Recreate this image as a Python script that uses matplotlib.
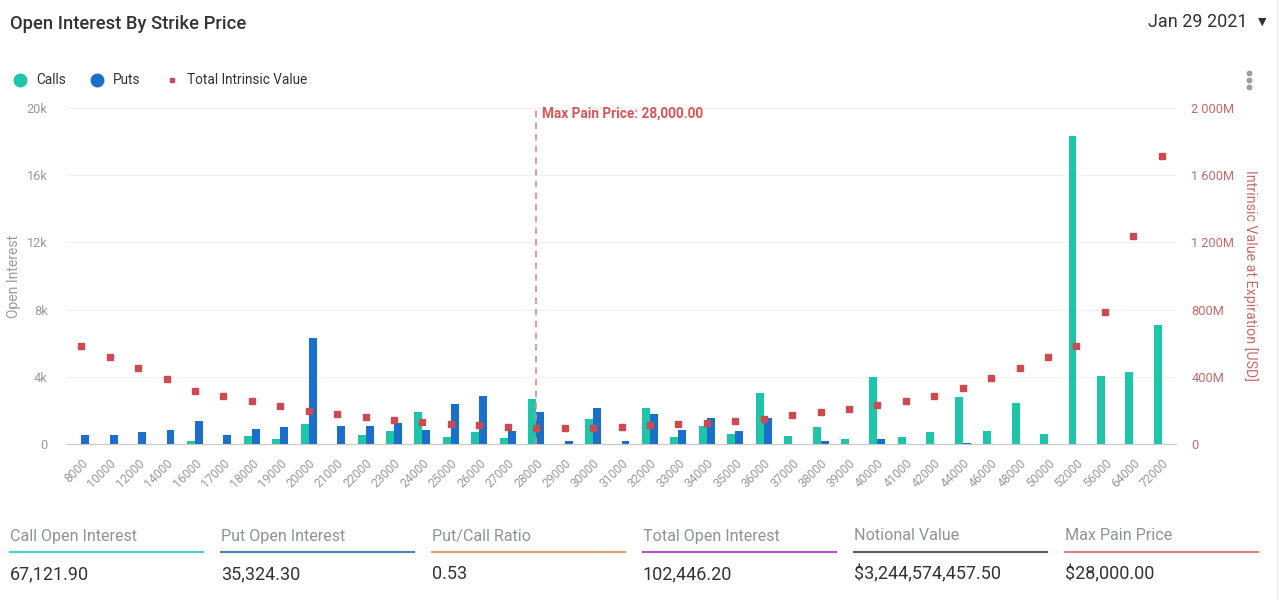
import numpy as np
import matplotlib.pyplot as plt
from matplotlib.lines import Line2D
from matplotlib.ticker import FuncFormatter

plt.rcParams['font.family'] = ['Roboto', 'DejaVu Sans']

strikes = ["8000", "10000", "12000", "14000", "16000", "17000", "18000", "19000",
           "20000", "21000", "22000", "23000", "24000", "25000", "26000", "27000",
           "28000", "29000", "30000", "31000", "32000", "33000", "34000", "35000",
           "36000", "37000", "38000", "39000", "40000", "41000", "42000", "44000",
           "46000", "48000", "50000", "52000", "56000", "64000", "72000"]

calls = [0, 0, 0, 0, 150, 0, 500, 300, 1170, 0, 550, 750, 1900, 420, 690, 340,
         2690, 0, 1490, 0, 2160, 420, 1090, 610, 3030, 500, 1030, 300, 3960, 420,
         690, 2770, 750, 2440, 610, 18360, 4040, 4300, 7110]

puts = [550, 550, 700, 830, 1350, 550, 890, 1000, 6300, 1090, 1090, 1230, 830,
        2380, 2830, 750, 1900, 160, 2160, 160, 1760, 830, 1560, 750, 1560, 0, 160,
        0, 300, 0, 0, 60, 0, 0, 0, 0, 0, 0, 0]

# total intrinsic value, millions USD
intrinsic = [584, 519, 451, 384, 317, 285, 257, 224, 196, 176, 162, 143, 131, 119,
             111, 103, 97, 97, 97, 103, 111, 117, 125, 137, 150, 170, 190, 210, 230,
             257, 285, 331, 392, 451, 519, 584, 786, 1236, 1717]

max_pain = "28000"

stat_labels = ["Call Open Interest", "Put Open Interest", "Put/Call Ratio",
               "Total Open Interest", "Notional Value", "Max Pain Price"]
stat_values = ["67,121.90", "35,324.30", "0.53", "102,446.20",
               "$3,244,574,457.50", "$28,000.00"]
stat_colors = ["#4fd1c1", "#4f86b0", "#d6a66c", "#a95bc6", "#5c5f63", "#d98585"]

CALL_C = "#1fc5a8"
PUT_C = "#1a6fca"
DOT_C = "#cc4a52"
RED_TXT = "#d65656"
AXIS_RED = "#c96a6a"
GRAY = "#9a9a9a"

W, H = 1280, 599
fig = plt.figure(figsize=(12.8, 5.99), dpi=100)
fig.patch.set_facecolor("white")

def fx(px):
    return px / W

def fy(py):
    return 1 - py / H

ax = fig.add_axes([fx(67), fy(444), fx(1176) - fx(67), fy(108) - fy(444)])
x = np.arange(len(strikes))
bw = 0.28
ax.bar(x - bw / 2, calls, width=bw, color=CALL_C, zorder=2)
ax.bar(x + bw / 2, puts, width=bw, color=PUT_C, zorder=2)
ax.set_xlim(-0.5, len(strikes) - 0.5)
ax.set_ylim(0, 20000)
ax.set_yticks([0, 4000, 8000, 12000, 16000, 20000])
ax.yaxis.set_major_formatter(FuncFormatter(lambda v, p: "0" if v == 0 else f"{int(v/1000)}k"))
ax.grid(axis="y", color="#f0f0f0", lw=0.8, zorder=0)
for s in ["top", "right", "left"]:
    ax.spines[s].set_visible(False)
ax.spines["bottom"].set_color("#c8c8c8")
ax.tick_params(axis="y", length=0, pad=14, labelcolor=GRAY, labelsize=9.2)
ax.tick_params(axis="x", length=0, pad=9, labelcolor=GRAY, labelsize=8.8)
ax.set_xticks(x)
ax.set_xticklabels(strikes, rotation=45, ha="right", rotation_mode="anchor")
ax.set_ylabel("Open Interest", color=GRAY, fontsize=10, labelpad=4)

ax2 = ax.twinx()
ax2.plot(x, intrinsic, ls="none", marker="s", ms=4.0, color=DOT_C, zorder=3)
ax2.set_ylim(0, 2000)
ax2.set_yticks([0, 400, 800, 1200, 1600, 2000])
ax2.yaxis.set_major_formatter(FuncFormatter(
    lambda v, p: "0" if v == 0 else f"{int(v):,}M".replace(",", " ")))
for s in ["top", "right", "left", "bottom"]:
    ax2.spines[s].set_visible(False)
ax2.tick_params(axis="y", length=0, pad=11, labelcolor=AXIS_RED, labelsize=9.2)
ax2.set_ylabel("Intrinsic Value at Expiration [USD]", color=AXIS_RED, fontsize=10.3,
               rotation=270, labelpad=17)

mp = strikes.index(max_pain)
ax.axvline(mp, color="#e08a8a", lw=1.2, ls=(0, (4, 3)), zorder=4)
ax.text(mp + 0.2, 19650, "Max Pain Price: 28,000.00", color=RED_TXT,
        fontsize=9.8, fontweight="bold", va="center", ha="left")

# header
fig.text(fx(10), fy(24), "Open Interest By Strike Price", fontsize=13.2,
         color="#333333", va="center", ha="left", fontweight="medium")
fig.text(fx(1247), fy(22), "Jan 29 2021", fontsize=13, color="#333333",
         va="center", ha="right")
fig.text(fx(1262), fy(22), "\u25BC", fontsize=8, color="#333333",
         va="center", ha="center")
for yy in [73, 80, 87]:
    fig.add_artist(Line2D([fx(1249)], [fy(yy)], marker="o", ms=3.2,
                          color="#9e9e9e", transform=fig.transFigure))
fig.add_artist(Line2D([fx(1277), fx(1277)], [0, 1], lw=1, color="#eeeeee",
                      transform=fig.transFigure))

# legend
legend_items = [(20, 36, "Calls", "o", CALL_C, 9),
                (97, 113, "Puts", "o", PUT_C, 9),
                (172, 187, "Total Intrinsic Value", "s", DOT_C, 3.5)]
for mx, tx, lab, mk, col, ms in legend_items:
    fig.add_artist(Line2D([fx(mx)], [fy(80)], marker=mk, ms=ms, color=col,
                          ls="none", transform=fig.transFigure))
    fig.text(fx(tx), fy(80), lab, fontsize=9.8, color="#333333",
             va="center", ha="left")

# stats row
for i, (lab, val, col) in enumerate(zip(stat_labels, stat_values, stat_colors)):
    x0 = 10 + i * 211
    fig.text(fx(x0), fy(536), lab, fontsize=11.6, color="#8e939a",
             va="center", ha="left")
    fig.add_artist(Line2D([fx(x0), fx(x0 + 193)], [fy(552), fy(552)], lw=1.6,
                          color=col, transform=fig.transFigure))
    fig.text(fx(x0), fy(574), val, fontsize=13, color="#333333",
             va="center", ha="left")

fig.savefig("out.png", dpi=100, facecolor="white")
